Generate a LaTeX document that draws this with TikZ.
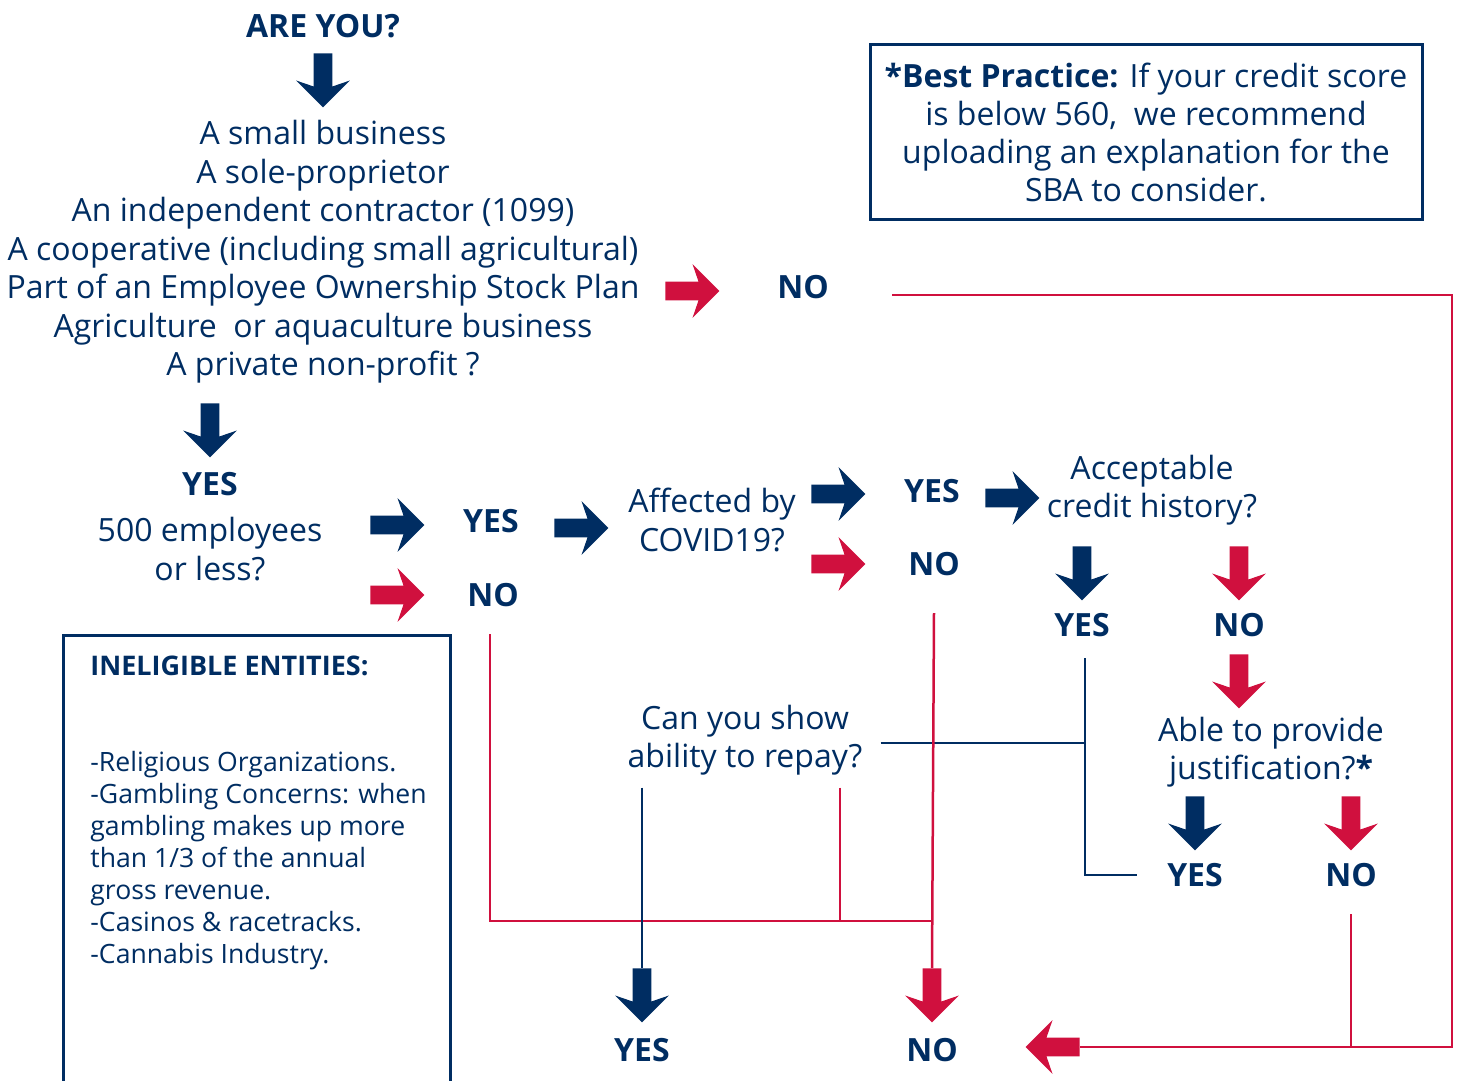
\documentclass[tikz,border=0pt]{standalone}
\usepackage{fontspec}
\setmainfont{Open Sans}
\usetikzlibrary{shapes.arrows}

\definecolor{navy}{RGB}{0,45,98}
\definecolor{crimson}{RGB}{208,16,62}

\begin{document}
\begin{tikzpicture}[x=0.5pt, y=-0.5pt,
		txt/.style={text=navy, font=\fontsize{16}{19.25}\selectfont, align=center, inner sep=0pt},
		ans/.style={text=navy, font=\fontsize{16}{19}\selectfont\bfseries, inner sep=0pt},
		blk/.style={single arrow, fill=#1, draw=none, anchor=tail, inner xsep=0pt, inner ysep=4.5pt,
			minimum height=27pt, single arrow head extend=8.75pt, single arrow head indent=3pt},
		wire/.style={line width=1.25pt}]
		\useasboundingbox (0,0) rectangle (1458,1081);

		% block arrows: name/colour/tail x/tail y/rotation
		\foreach \n/\c/\x/\y/\r in {
			start/navy/323/53/-90, notop/crimson/665/291/0, fit/navy/210/403/-90,
			yessize/navy/370/525/0, tocovid/navy/554/528/0, nosize/crimson/370/595/0,
			yescovid/navy/811/494/0, nocovid/crimson/811/564/0, tocredit/navy/985/498/0,
			yescredit/navy/1082/546/-90, nocredit/crimson/1239/546/-90, tojustify/crimson/1239/654/-90,
			yesjustify/navy/1195/796/-90, nojustify/crimson/1351/796/-90,
			yesend/navy/642/968/-90, noend/crimson/932/968/-90, back/crimson/1080/1047/180} {
			\node[blk=\c, rotate=\r] (\n) at (\x,\y) {};
		}

		\node[ans] (areyou) at (323,26) {ARE YOU?};
		\node[txt] (kinds) at (323,252) {A small business\\A sole-proprietor\\An independent contractor (1099)\\
			A cooperative (including small agricultural)\\Part of an Employee Ownership Stock Plan\\
			Agriculture\ \ or aquaculture business\\A private non-profit ?};
		\node[ans] (no1) at (803,287) {NO};
		\node[ans] (yes1) at (210,484) {YES};
		\node[txt] (size) at (210,549) {500 employees\\or less?};
		\node[ans] (yes2) at (491,521) {YES};
		\node[ans] (no2) at (493,595) {NO};
		\node[txt] (covid) at (712,520) {Affected by\\COVID19?};
		\node[ans] (yes3) at (932,491) {YES};
		\node[ans] (no3) at (934,564) {NO};
		\node[txt] (credit) at (1152,490) {Acceptable\\credit history?};
		\node[ans] (yes4) at (1082,625) {YES};
		\node[ans] (no4) at (1239,625) {NO};
		\node[txt] (justify) at (1271,752) {Able to provide\\justification?\textbf{*}};
		\node[ans] (yes5) at (1195,875) {YES};
		\node[ans] (no5) at (1351,875) {NO};
		\node[txt] (repay) at (745,740) {Can you show\\ability to repay?};
		\node[ans] (yes6) at (642,1050) {YES};
		\node[ans] (no6) at (932,1050) {NO};

		% best practice note
		\node[txt, draw=navy, line width=1.5pt, font=\fontsize{16}{19}\selectfont,
			minimum width=276pt, minimum height=87.5pt] (note) at (1146,132.5)
			{\textbf{*Best Practice:} If your credit score\\is below 560,\ \ we recommend\\
			uploading an explanation for the\\SBA to consider.};

		% ineligible entities
		\draw[navy, line width=1.5pt] (63,1090) -- (63,635) -- (450,635) -- (450,1090);
		\node[ans, anchor=west, font=\fontsize{13.5}{16}\selectfont\bfseries] (inelig) at (90,666) {INELIGIBLE ENTITIES:};
		\node[txt, anchor=north west, align=left, font=\fontsize{13.3}{16}\selectfont] (list) at (90,751)
			{-Religious Organizations.\\-Gambling Concerns: when\\gambling makes up more\\than 1/3 of the annual\\
			gross revenue.\\-Casinos \& racetracks.\\-Cannabis Industry.};

		% connectors
		\coordinate (merge) at (933,921);
		\coordinate (r0) at ([xshift=9pt,yshift=-1.5pt]repay.east);
		\draw[wire, navy] ([xshift=1.5pt,yshift=-10.5pt]yes4.south) coordinate (v1) |- ([xshift=-15pt]yes5.west);
		\draw[wire, navy] (r0) -- (v1 |- r0);
		\draw[wire, crimson] ([xshift=31.5pt,yshift=-4pt]no1.east) -- ++(560,0) |- (back.tail);
		\draw[wire, crimson] ([yshift=-13.5pt]no5.south) -- (no5.south |- back.tail);
		\draw[wire, crimson] ([yshift=-18.5pt]no3.south) -- (noend.tail);
		\draw[wire, crimson] ([xshift=-1.5pt,yshift=-13.5pt]no2.south) |- (merge);
		\draw[wire, crimson] ([xshift=47.5pt,yshift=-6pt]repay.south) coordinate (r1) -- (r1 |- merge);
		\draw[wire, navy] (yesend.tail |- r1) -- (yesend.tail);
	\end{tikzpicture}
\end{document}
